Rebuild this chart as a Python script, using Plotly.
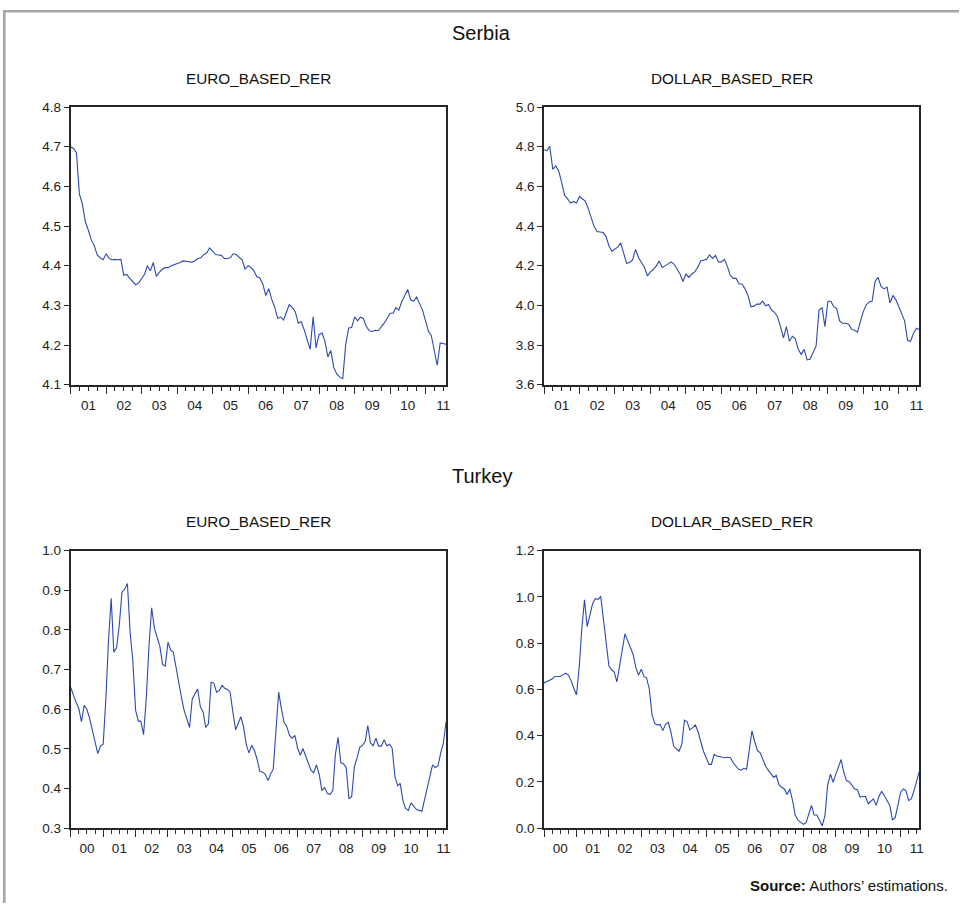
import pandas as pd
import plotly.graph_objects as go

# Monthly observations
serbia_dates = pd.date_range("2001-01-01", "2011-08-01", freq="MS")
turkey_dates = pd.date_range("2000-01-01", "2011-08-01", freq="MS")

serbia_euro = [
    4.700, 4.695, 4.685, 4.580, 4.556, 4.510, 4.490, 4.465, 4.450, 4.427, 4.420, 4.415,
    4.430, 4.418, 4.415, 4.416, 4.415, 4.416, 4.376, 4.378, 4.368, 4.360, 4.352, 4.356,
    4.366, 4.379, 4.400, 4.387, 4.408, 4.373, 4.383, 4.391, 4.395, 4.395, 4.400, 4.402,
    4.405, 4.408, 4.412, 4.410, 4.410, 4.409, 4.412, 4.418, 4.420, 4.428, 4.432, 4.445,
    4.437, 4.428, 4.427, 4.426, 4.418, 4.418, 4.420, 4.430, 4.428, 4.420, 4.414, 4.391,
    4.400, 4.395, 4.387, 4.372, 4.369, 4.354, 4.325, 4.342, 4.315, 4.296, 4.267, 4.271,
    4.263, 4.284, 4.302, 4.294, 4.284, 4.255, 4.259, 4.238, 4.214, 4.189, 4.271, 4.193,
    4.226, 4.230, 4.210, 4.170, 4.186, 4.143, 4.127, 4.119, 4.115, 4.201, 4.243, 4.244,
    4.271, 4.261, 4.270, 4.267, 4.247, 4.236, 4.234, 4.237, 4.236, 4.244, 4.255, 4.267,
    4.280, 4.280, 4.294, 4.288, 4.309, 4.324, 4.340, 4.314, 4.311, 4.321, 4.305, 4.288,
    4.261, 4.234, 4.224, 4.185, 4.149, 4.205, 4.204, 4.202,
]

serbia_dollar = [
    4.785, 4.780, 4.802, 4.686, 4.703, 4.678, 4.620, 4.554, 4.537, 4.516, 4.524, 4.516,
    4.549, 4.538, 4.526, 4.488, 4.447, 4.397, 4.372, 4.371, 4.367, 4.348, 4.298, 4.273,
    4.282, 4.295, 4.315, 4.268, 4.212, 4.216, 4.229, 4.282, 4.240, 4.216, 4.191, 4.149,
    4.169, 4.182, 4.199, 4.224, 4.191, 4.199, 4.211, 4.219, 4.207, 4.182, 4.158, 4.120,
    4.158, 4.141, 4.158, 4.169, 4.191, 4.224, 4.229, 4.232, 4.254, 4.237, 4.252, 4.219,
    4.219, 4.232, 4.199, 4.153, 4.136, 4.136, 4.108, 4.108, 4.083, 4.050, 3.993, 3.996,
    4.006, 4.006, 4.021, 3.998, 4.004, 3.976, 3.965, 3.943, 3.893, 3.836, 3.893, 3.819,
    3.844, 3.831, 3.778, 3.753, 3.778, 3.725, 3.728, 3.761, 3.794, 3.976, 3.988, 3.893,
    4.021, 4.021, 3.993, 3.984, 3.922, 3.910, 3.910, 3.905, 3.880, 3.874, 3.865, 3.918,
    3.971, 4.004, 4.017, 4.022, 4.120, 4.141, 4.095, 4.083, 4.092, 4.012, 4.050, 4.029,
    3.993, 3.960, 3.922, 3.822, 3.819, 3.860, 3.885, 3.877,
]

turkey_euro = [
    0.655, 0.633, 0.618, 0.602, 0.569, 0.610, 0.600, 0.577, 0.548, 0.515, 0.488, 0.507,
    0.512, 0.630, 0.770, 0.880, 0.744, 0.755, 0.812, 0.895, 0.903, 0.917, 0.792, 0.722,
    0.598, 0.570, 0.570, 0.536, 0.626, 0.759, 0.856, 0.804, 0.783, 0.759, 0.713, 0.709,
    0.769, 0.749, 0.745, 0.705, 0.664, 0.631, 0.598, 0.577, 0.554, 0.626, 0.639, 0.651,
    0.606, 0.593, 0.554, 0.564, 0.668, 0.666, 0.643, 0.647, 0.660, 0.653, 0.650, 0.643,
    0.593, 0.548, 0.564, 0.581, 0.556, 0.511, 0.490, 0.509, 0.496, 0.474, 0.443, 0.442,
    0.436, 0.420, 0.436, 0.449, 0.544, 0.643, 0.602, 0.567, 0.556, 0.534, 0.527, 0.534,
    0.501, 0.484, 0.501, 0.482, 0.463, 0.446, 0.440, 0.460, 0.436, 0.395, 0.403, 0.388,
    0.385, 0.395, 0.486, 0.529, 0.465, 0.463, 0.453, 0.374, 0.380, 0.455, 0.478, 0.504,
    0.509, 0.519, 0.559, 0.515, 0.508, 0.527, 0.507, 0.507, 0.523, 0.508, 0.512, 0.502,
    0.430, 0.407, 0.413, 0.370, 0.350, 0.345, 0.364, 0.354, 0.347, 0.345, 0.343, 0.372,
    0.403, 0.432, 0.460, 0.453, 0.457, 0.490, 0.515, 0.569,
]

turkey_dollar = [
    0.628, 0.633, 0.639, 0.645, 0.656, 0.656, 0.656, 0.664, 0.670, 0.662, 0.638, 0.605,
    0.577, 0.700, 0.860, 0.987, 0.871, 0.921, 0.970, 0.992, 0.989, 1.002, 0.900, 0.800,
    0.701, 0.684, 0.676, 0.633, 0.694, 0.772, 0.840, 0.812, 0.783, 0.751, 0.694, 0.662,
    0.687, 0.655, 0.650, 0.602, 0.492, 0.453, 0.446, 0.449, 0.422, 0.449, 0.458, 0.415,
    0.354, 0.344, 0.333, 0.361, 0.467, 0.460, 0.425, 0.435, 0.446, 0.418, 0.375, 0.333,
    0.305, 0.276, 0.276, 0.319, 0.312, 0.309, 0.305, 0.305, 0.307, 0.305, 0.283, 0.269,
    0.255, 0.251, 0.259, 0.255, 0.333, 0.421, 0.375, 0.336, 0.326, 0.297, 0.269, 0.251,
    0.234, 0.220, 0.229, 0.188, 0.177, 0.170, 0.146, 0.170, 0.120, 0.057, 0.035, 0.024,
    0.017, 0.024, 0.061, 0.099, 0.057, 0.057, 0.035, 0.010, 0.057, 0.188, 0.234, 0.198,
    0.234, 0.269, 0.297, 0.241, 0.205, 0.201, 0.184, 0.170, 0.167, 0.135, 0.137, 0.137,
    0.106, 0.116, 0.127, 0.099, 0.137, 0.160, 0.142, 0.123, 0.099, 0.035, 0.047, 0.099,
    0.156, 0.170, 0.163, 0.120, 0.127, 0.163, 0.205, 0.248,
]

panel_titles = ["EURO_BASED_RER", "DOLLAR_BASED_RER", "EURO_BASED_RER", "DOLLAR_BASED_RER"]
country_titles = ["Serbia", "Turkey"]
y_ranges = [(4.1, 4.8, 0.1), (3.6, 5.0, 0.2), (0.3, 1.0, 0.1), (0.0, 1.2, 0.2)]

W, H = 963, 911
FONT = "Liberation Sans, Arial, sans-serif"
LINE_COLOR = "#2c4aac"
FRAME_COLOR = "#262626"


def px(x):
    return x / W


def py(y):
    return 1 - y / H


# panel boxes in pixels: (left, right, top, bottom)
boxes = [
    (71, 448, 101.7, 384),
    (546.3, 923.3, 101.7, 384),
    (71, 448, 552.7, 835),
    (546.3, 923.3, 552.7, 835),
]

series = [
    (serbia_dates, serbia_euro),
    (serbia_dates, serbia_dollar),
    (turkey_dates, turkey_euro),
    (turkey_dates, turkey_dollar),
]

fig = go.Figure()
layout = dict(
    width=W, height=H,
    margin=dict(l=0, r=0, t=0, b=0),
    paper_bgcolor="white", plot_bgcolor="white",
    showlegend=False,
    font=dict(family=FONT, color="#222222"),
)
annotations = []

for k, ((dates, vals), (l, r, t, b), (y0, y1, dy)) in enumerate(zip(series, boxes, y_ranges)):
    n = "" if k == 0 else str(k + 1)
    fig.add_trace(go.Scatter(
        x=dates, y=vals, mode="lines",
        line=dict(color=LINE_COLOR, width=1.1),
        xaxis="x" + n, yaxis="y" + n, hoverinfo="skip",
    ))
    layout["xaxis" + n] = dict(
        domain=[px(l), px(r)], anchor="y" + n, type="date",
        range=[dates[0], dates[-1]],
        tick0=f"{dates[0].year}-01-01", dtick="M12", tickformat="%y",
        ticklabelmode="period",
        ticks="outside", ticklen=7, tickwidth=1.2, tickcolor=FRAME_COLOR,
        minor=dict(dtick="M3", ticks="outside", ticklen=4, tickwidth=1, tickcolor=FRAME_COLOR),
        showline=True, linecolor=FRAME_COLOR, linewidth=1.8, mirror=True,
        showgrid=False, zeroline=False,
        tickfont=dict(size=13.5, color="#222"),
        fixedrange=True,
    )
    layout["yaxis" + n] = dict(
        domain=[py(b), py(t)], anchor="x" + n,
        range=[y0, y1], dtick=dy, tick0=y0, tickformat=".1f",
        ticks="outside", ticklen=5, tickwidth=1.2, tickcolor=FRAME_COLOR,
        showline=True, linecolor=FRAME_COLOR, linewidth=1.8, mirror=True,
        showgrid=False, zeroline=False,
        tickfont=dict(size=13.5, color="#222"),
        fixedrange=True,
    )
    annotations.append(dict(
        text=panel_titles[k], x=px((l + r) / 2), y=py(72.5 if k < 2 else 523),
        xref="paper", yref="paper", xanchor="center", yanchor="middle",
        showarrow=False, font=dict(size=15.3, color="#111"),
    ))

for i, name in enumerate(country_titles):
    annotations.append(dict(
        text=name, x=px(484), y=py(26.5 if i == 0 else 477),
        xref="paper", yref="paper", xanchor="center", yanchor="middle",
        showarrow=False, font=dict(size=20, color="#111"),
    ))

annotations.append(dict(
    text="<b>Source:</b> Authors’ estimations.",
    x=px(954), y=py(893), xref="paper", yref="paper",
    xanchor="right", yanchor="middle", showarrow=False,
    font=dict(size=15, color="#111"),
))

layout["annotations"] = annotations
layout["shapes"] = [
    dict(type="line", xref="paper", yref="paper", x0=px(3), x1=1, y0=py(4.3), y1=py(4.3),
         line=dict(color="#a6a6a6", width=2.6)),
    dict(type="line", xref="paper", yref="paper", x0=px(4.3), x1=px(4.3), y0=0, y1=py(3),
         line=dict(color="#a6a6a6", width=2.6)),
]

fig.update_layout(**layout)
fig.write_html("out.html")
